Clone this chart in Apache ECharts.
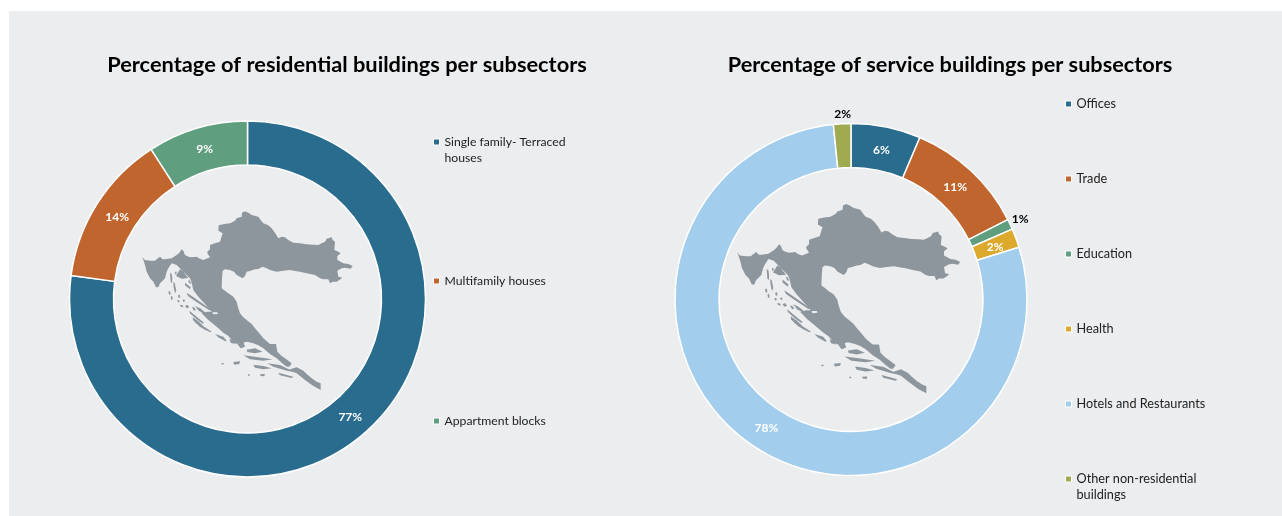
<!DOCTYPE html>
<html><head><meta charset="utf-8">
<script src="https://cdn.jsdelivr.net/npm/echarts@6/dist/echarts.min.js"></script>
<style>html,body{margin:0;padding:0;background:#fff}#c{width:1282px;height:516px}</style>
</head><body><div id="c"></div>
<script>
const residentialCategories = ['Single family- Terraced\nhouses', 'Multifamily houses', 'Appartment blocks'];
const residentialValues = [77.1, 13.8, 9.1];
const serviceCategories = ['Offices', 'Trade', 'Education', 'Health', 'Hotels and Restaurants', 'Other non-residential\nbuildings'];
const serviceValues = [6.4, 11.1, 0.95, 1.75, 78.2, 1.6];
const residentialColors = ['#2A6C8E', '#C0652D', '#5F9E7E'];
const serviceColors = ['#2A6C8E', '#C0652D', '#5F9E7E', '#DCA92D', '#A2CDEC', '#A0AA4F'];
const titles = ['Percentage of residential buildings per subsectors', 'Percentage of service buildings per subsectors'];
const residentialLegendTops = [118, 273, 413];
const serviceLegendTops = [96, 171, 246, 321, 396, 455];
const residentialLabelNudges = [[-2,-1],[4,3],[2,3]];
const serviceLabelNudges = [[-1,4],[-3,2],[-1,-4],[-3,2],[2,-2],[9,-7]];

const mapMain = [[37,170],[44,180],[62,182],[75,182],[82,176],[90,170],[98,178],[105,178],[125,175],[140,165],[148,158],[155,148],[160,152],[165,165],[175,170],[185,172],[200,170],[210,176],[220,180],[240,172],[232,160],[232,155],[240,148],[240,135],[255,130],[270,125],[278,100],[265,92],[266,76],[283,72],[300,70],[315,62],[320,55],[335,50],[336,38],[345,34],[355,38],[365,45],[385,50],[392,60],[400,70],[415,76],[425,85],[435,98],[445,115],[455,110],[465,112],[475,120],[490,128],[510,130],[530,133],[550,134],[565,135],[575,130],[585,125],[590,116],[605,112],[608,120],[615,125],[613,150],[625,155],[632,160],[622,168],[622,180],[640,190],[655,192],[668,198],[662,206],[645,203],[635,205],[622,212],[625,230],[637,233],[628,240],[620,245],[608,245],[600,250],[595,238],[580,238],[570,235],[555,225],[530,220],[510,215],[495,213],[480,210],[460,212],[440,215],[420,210],[410,205],[398,200],[385,207],[375,208],[362,212],[350,215],[345,228],[338,235],[320,225],[312,215],[300,210],[285,208],[278,212],[276,235],[275,265],[285,272],[295,280],[310,290],[320,305],[324,322],[330,340],[340,352],[350,360],[365,372],[375,385],[388,400],[400,415],[420,432],[438,432],[442,455],[455,468],[465,475],[485,490],[478,500],[470,500],[455,488],[440,475],[420,462],[400,445],[385,436],[370,430],[350,425],[340,428],[320,432],[310,425],[295,408],[280,398],[265,385],[250,372],[235,360],[215,340],[232,335],[245,335],[225,312],[205,290],[190,270],[185,248],[180,235],[160,215],[140,195],[125,190],[115,205],[110,215],[105,235],[100,240],[90,250],[85,262],[78,262],[70,245],[60,235],[50,215],[45,195]];
const mapIslands = [
 [[475,510],[490,505],[500,502],[520,512],[530,522],[545,535],[560,545],[572,550],[572,570],[550,558],[525,540],[500,520]],
 [[138,228],[150,208],[160,214],[165,222],[175,234],[155,236]],
 [[120,218],[125,222],[127,235],[126,250],[122,245]],
 [[130,246],[134,250],[139,272],[135,280],[131,262]],
 [[165,248],[182,262],[180,268],[165,256]],
 [[170,278],[195,295],[245,330],[238,331],[195,303],[174,288]],
 [[115,275],[120,273],[122,283],[118,285]],
 [[122,290],[127,288],[128,298],[124,300]],
 [[150,314],[158,316],[160,322],[152,320]],
 [[165,318],[172,314],[178,322],[170,325]],
 [[142,300],[147,300],[149,306],[144,307]],
 [[158,300],[163,298],[165,304],[160,306]],
 [[174,240],[180,242],[184,252],[178,250]],
 [[135,216],[139,214],[140,222],[136,224]],
 [[144,285],[149,284],[151,292],[146,294]],
 [[186,322],[192,322],[198,330],[192,332]],
 [[178,332],[200,350],[222,368],[218,371],[198,356],[180,340]],
 [[188,352],[205,364],[222,380],[218,382],[200,372],[189,360]],
 [[205,372],[225,382],[245,395],[241,397],[222,388],[206,378]],
 [[195,318],[210,325],[232,342],[228,345],[206,332]],
 [[255,402],[280,410],[290,422],[286,424],[265,412]],
 [[298,416],[312,423],[316,432],[302,428]],
 [[350,449],[375,445],[398,455],[375,460],[352,456]],
 [[340,466],[375,470],[428,478],[400,482],[360,478]],
 [[370,494],[400,498],[425,505],[400,508],[375,503]],
 [[412,490],[450,495],[495,517],[470,512],[430,500]],
 [[445,518],[490,530],[485,534],[450,526]],
 [[310,486],[330,484],[328,492],[313,494]],
 [[390,523],[405,522],[403,529],[392,528]],
 [[275,489],[281,489],[281,493],[275,493]],
 [[354,523],[359,523],[359,527],[354,527]],
 [[322,432],[340,426],[345,440],[332,445]]
];
const mapHole = [[247,337],[262,337],[264,342],[250,343]];

const FONT = 'Lato, "Open Sans", sans-serif';
const PANEL = '#ECEDEF', GREY = '#8E969D';
function mapGroup(x, y, s) {
  const kids = [mapMain].concat(mapIslands).map(p => ({type:'polygon', shape:{points:p}, style:{fill:GREY}, silent:true}));
  kids.push({type:'polygon', shape:{points:mapHole}, style:{fill:PANEL}, silent:true});
  return {type:'group', x:x, y:y, scaleX:s, scaleY:s, silent:true, children:kids};
}
function legends(names, tops, left, size) {
  return names.map((n, i) => ({
    left: left, top: tops[i], orient:'vertical', padding:0, icon:'rect',
    itemWidth:6, itemHeight:6,
    itemStyle:{borderColor:'#fff', borderWidth:1},
    selectedMode:false,
    textStyle:{fontFamily:FONT, fontSize:size, color:'#222', lineHeight:16},
    formatter: name => name.includes('\n') ? '\n' + name : name,
    data:[n]
  }));
}
const insideLabel = {show:true, position:'inside', color:'#fff', fontFamily:FONT, fontWeight:'bold', fontSize:12,
  formatter:p => Math.round(p.value) + '%'};
function pieSeries(names, values, colors, center, radius, outsideIdx, nudges) {
  return {
    type:'pie', center:center, radius:radius, startAngle:90, clockwise:true, animation:false,
    avoidLabelOverlap:false, silent:true,
    itemStyle:{borderColor:'#fff', borderWidth:1.5},
    label:insideLabel, labelLine:{show:false},
    labelLayout:p => ({dx:nudges[p.dataIndex][0], dy:nudges[p.dataIndex][1]}),
    data:names.map((n,i) => {
      const d = {name:n, value:values[i], itemStyle:{color:colors[i]}};
      if (outsideIdx.includes(i)) {
        d.label = {position:'outside', color:'#000', distanceToLabelLine:0};
        d.labelLine = {show:false, length:3, length2:0};
      }
      return d;
    })
  };
}
const chart = echarts.init(document.getElementById('c'), null, {renderer:'canvas'});
chart.setOption({
  animation:false,
  backgroundColor:'#fff',
  title:[
    {text:titles[0], left:342, top:49, textAlign:'center', textStyle:{fontFamily:FONT, fontWeight:'bold', fontSize:21.8, color:'#000'}},
    {text:titles[1], left:945, top:49, textAlign:'center', textStyle:{fontFamily:FONT, fontWeight:'bold', fontSize:21.7, color:'#000'}}
  ],
  legend: legends(residentialCategories, residentialLegendTops, 433, 12.2).concat(legends(serviceCategories, serviceLegendTops, 1065, 12.7)),
  series:[
    pieSeries(residentialCategories, residentialValues, residentialColors, [247.5,299], [134,178], [], residentialLabelNudges),
    pieSeries(serviceCategories, serviceValues, serviceColors, [851,299.5], [132,176], [2,5], serviceLabelNudges)
  ],
  graphic:{elements:[
    {type:'rect', z:-10, zlevel:0, silent:true, shape:{x:9, y:11, width:1273, height:505}, style:{fill:PANEL}},
    Object.assign(mapGroup(130,200,1/3), {z:10}),
    Object.assign(mapGroup(724.26,191.97,1.06/3), {z:10})
  ]}
});
</script></body></html>
